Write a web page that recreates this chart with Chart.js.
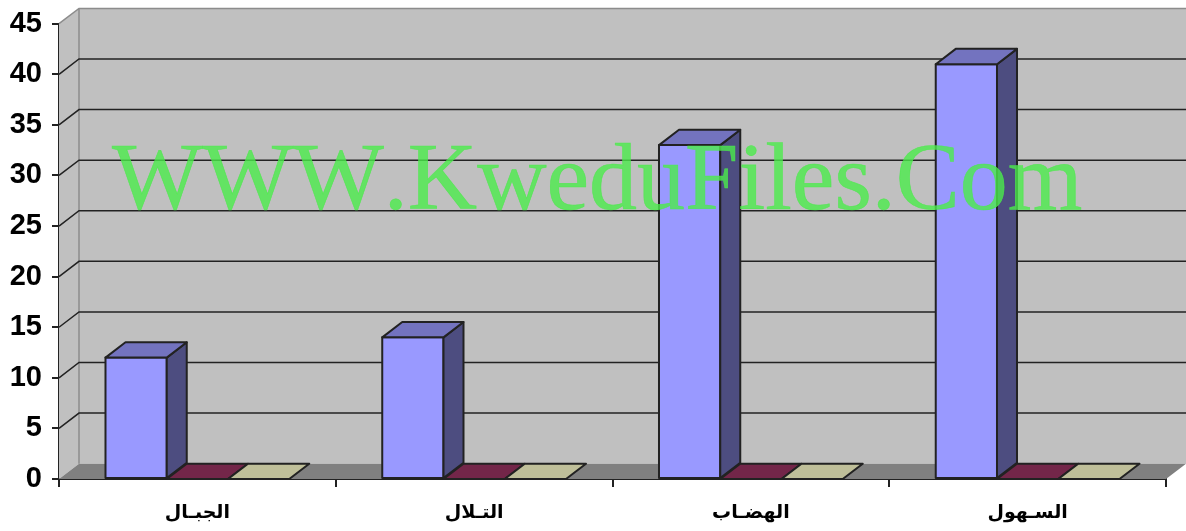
<!DOCTYPE html>
<html>
<head>
<meta charset="utf-8">
<title>chart</title>
<script src="https://cdn.jsdelivr.net/npm/chart.js@4"></script>
<style>
  html, body { margin: 0; padding: 0; background: #fff; overflow: hidden; }
  #wrap { position: relative; width: 1186px; height: 531px; }
</style>
</head>
<body>
<div id="wrap"><canvas id="chart"></canvas></div>
<script>
// data
const categories = ["الجبـال", "التـلال", "الهضـاب", "السـهول"];
const seriesA = [12, 14, 33, 41];
const seriesB = [0, 0, 0, 0];
const seriesC = [0, 0, 0, 0];
const yMin = 0;
const yMax = 45;
const yStep = 5;
const watermark = "WWW.KweduFiles.Com";

// depth of the fake 3d box
const depthX = 20;
const depthY = 15.3;
const lineDark = "#222222";

function poly(ctx, pts, fill, stroke, lw) {
  ctx.beginPath();
  pts.forEach((p, i) => (i ? ctx.lineTo(p[0], p[1]) : ctx.moveTo(p[0], p[1])));
  ctx.closePath();
  if (fill) {
    ctx.fillStyle = fill;
    ctx.fill();
  }
  if (stroke) {
    ctx.strokeStyle = stroke;
    ctx.lineWidth = lw || 1;
    ctx.stroke();
  }
}

// walls, floor and gridlines behind the bars
const wallsPlugin = {
  id: "walls",
  beforeDatasetsDraw(chart) {
    const ctx = chart.ctx;
    const a = chart.chartArea;
    const y = chart.scales.y;
    ctx.save();
    poly(ctx, [[a.left, a.bottom], [a.left + depthX, a.bottom - depthY], [a.left + depthX, a.top - depthY], [a.left, a.top]], "#c0c0c0");
    poly(ctx, [[a.left + depthX, a.top - depthY], [a.right + depthX, a.top - depthY], [a.right + depthX, a.bottom - depthY], [a.left + depthX, a.bottom - depthY]], "#c0c0c0");
    poly(ctx, [[a.left, a.bottom], [a.left + depthX, a.bottom - depthY], [a.right + depthX, a.bottom - depthY], [a.right, a.bottom]], "#808080");

    ctx.strokeStyle = "#8c8c8c";
    ctx.lineWidth = 1.5;
    ctx.beginPath();
    ctx.moveTo(a.left, a.top);
    ctx.lineTo(a.left + depthX, a.top - depthY);
    ctx.lineTo(a.right + depthX, a.top - depthY);
    ctx.moveTo(a.left + depthX, a.top - depthY);
    ctx.lineTo(a.left + depthX, a.bottom - depthY);
    ctx.stroke();

    ctx.strokeStyle = lineDark;
    ctx.lineWidth = 1.5;
    y.ticks.forEach((t) => {
      if (t.value === yMin || t.value === yMax) return;
      const py = y.getPixelForValue(t.value);
      ctx.beginPath();
      ctx.moveTo(a.left, py);
      ctx.lineTo(a.left + depthX, py - depthY);
      ctx.lineTo(a.right + depthX, py - depthY);
      ctx.stroke();
    });
    ctx.restore();
  },
  // outlines, top and side faces of the bars
  afterDatasetsDraw(chart) {
    const ctx = chart.ctx;
    ctx.save();
    ctx.lineJoin = "round";
    chart.data.datasets.forEach((ds, i) => {
      chart.getDatasetMeta(i).data.forEach((bar) => {
        const p = bar.getProps(["x", "y", "base", "width"], true);
        const l = p.x - p.width / 2;
        const r = p.x + p.width / 2;
        if (p.base - p.y > 0.5) {
          poly(ctx, [[l, p.y], [r, p.y], [r, p.base], [l, p.base]], null, lineDark, 2);
          poly(ctx, [[r, p.y], [r + depthX, p.y - depthY], [r + depthX, p.base - depthY], [r, p.base]], ds.sideColor, lineDark, 2);
        }
        poly(ctx, [[l, p.y], [l + depthX, p.y - depthY], [r + depthX, p.y - depthY], [r, p.y]], ds.topColor, lineDark, 2);
      });
    });
    ctx.restore();
  },
  // watermark goes over everything
  afterDraw(chart) {
    const ctx = chart.ctx;
    ctx.save();
    ctx.font = '96px "Liberation Serif"';
    ctx.fontKerning = "none";
    ctx.textAlign = "left";
    ctx.textBaseline = "alphabetic";
    ctx.fillStyle = "rgba(75, 235, 75, 0.8)";
    ctx.strokeStyle = "rgba(75, 235, 75, 0.8)";
    ctx.lineWidth = 0.6;
    ctx.fillText(watermark, 112, 209);
    ctx.strokeText(watermark, 112, 209);
    ctx.restore();
  },
};

new Chart(document.getElementById("chart"), {
  type: "bar",
  data: {
    labels: categories,
    datasets: [
      { label: "A", data: seriesA, backgroundColor: "#9999ff", topColor: "#7373bf", sideColor: "#4d4d80" },
      { label: "B", data: seriesB, backgroundColor: "#993366", topColor: "#732649", sideColor: "#4d1a33" },
      { label: "C", data: seriesC, backgroundColor: "#ffffcc", topColor: "#bfbf99", sideColor: "#808066" },
    ].map((d) => ({
      ...d,
      borderWidth: 0,
      categoryPercentage: 0.664,
      barPercentage: 1,
    })),
  },
  options: {
    responsive: true,
    maintainAspectRatio: false,
    animation: false,
    layout: { padding: { top: 23.7, right: 20, left: 0, bottom: 0 } },
    plugins: { legend: { display: false }, tooltip: { enabled: false } },
    scales: {
      x: {
        afterFit: (s) => { s.height = 52; s.paddingLeft = 0; s.paddingRight = 0; },
        grid: { drawOnChartArea: false, color: lineDark, lineWidth: 2, tickLength: 8 },
        border: { color: lineDark, width: 2 },
        ticks: {
          color: "#000",
          padding: 15,
          maxRotation: 0,
          font: { family: '"DejaVu Sans"', size: 19, weight: "bold" },
        },
      },
      y: {
        min: yMin,
        max: yMax,
        // labels may hang over the top, the box is placed by hand
        afterFit: (s) => { s.width = 59; s.paddingTop = 0; s.paddingBottom = 0; },
        grid: { drawOnChartArea: false, color: lineDark, lineWidth: 2, tickLength: 7 },
        border: { color: lineDark, width: 2 },
        ticks: {
          stepSize: yStep,
          color: "#000",
          padding: 10,
          font: { family: '"Liberation Sans"', size: 29, weight: "bold" },
        },
      },
    },
  },
  plugins: [wallsPlugin],
});
</script>
</body>
</html>
